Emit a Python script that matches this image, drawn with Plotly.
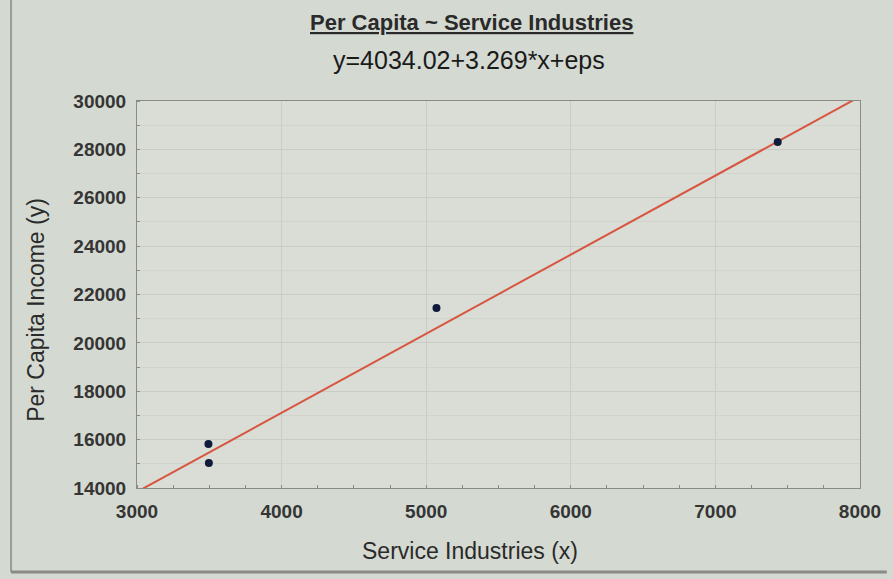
import plotly.graph_objects as go

service_x = [3494, 3497, 5071, 7431]
income_y = [15820, 15030, 21440, 28300]
intercept = 4034.02
slope = 3.269
line_x = [3000, 8000]
x_ticks = [3000, 4000, 5000, 6000, 7000, 8000]
y_ticks = [14000, 16000, 18000, 20000, 22000, 24000, 26000, 28000, 30000]

line_y = [intercept + slope * v for v in line_x]

fig = go.Figure()
fig.add_trace(go.Scatter(x=line_x, y=line_y, mode="lines",
                         line=dict(color="#d8553f", width=2), hoverinfo="skip"))
fig.add_trace(go.Scatter(x=service_x, y=income_y, mode="markers",
                         marker=dict(color="#101a3a", size=8)))

W, H = 893, 579
L, R, T, B = 137, 27, 101, 91
pw, ph = W - L - R, H - T - B

tickfont = dict(size=19, color="#353535", family="Liberation Sans, Arial, sans-serif", weight="bold")

fig.update_layout(
    width=W, height=H,
    margin=dict(l=L, r=R, t=T, b=B),
    paper_bgcolor="#d4d9d1",
    plot_bgcolor="#d9ddd6",
    showlegend=False,
    font=dict(family="Liberation Sans, Arial, sans-serif", color="#333333"),
    xaxis=dict(range=[3000, 8000], tickvals=x_ticks, ticktext=[str(v) for v in x_ticks], ticks="",
               tickfont=tickfont, ticklabelstandoff=6,
               showgrid=True, gridcolor="#c9cdc5", gridwidth=1,
               zeroline=False, showline=True, linecolor="#8a8a8a", mirror=True,
               minor=dict(ticks="inside", ticklen=3, tickcolor="#8a8a8a", dtick=250, showgrid=False)),
    yaxis=dict(range=[14000, 30000], tickvals=y_ticks, ticktext=[str(v) for v in y_ticks], ticks="",
               tickfont=tickfont, ticklabelstandoff=6,
               showgrid=True, gridcolor="#c9cdc5", gridwidth=1,
               zeroline=False, showline=True, linecolor="#8a8a8a", mirror=True,
               minor=dict(ticks="inside", ticklen=3, tickcolor="#8a8a8a", dtick=1000, showgrid=True,
                          gridcolor="#d0d4cc")),
)

def px_x(p):
    return (p - L) / pw

def px_y(p):
    return 1 - (p - T) / ph

fig.add_annotation(text="<b><u>Per Capita ~ Service Industries</u></b>", xref="paper", yref="paper",
                   x=px_x(474), y=px_y(22), showarrow=False,
                   font=dict(size=22, color="#2a2a2a"), xanchor="center", yanchor="middle")
fig.add_annotation(text="y=4034.02+3.269*x+eps", xref="paper", yref="paper",
                   x=px_x(472), y=px_y(60), showarrow=False,
                   font=dict(size=25, color="#1a1a1a"), xanchor="center", yanchor="middle")
fig.add_annotation(text="Service Industries (x)", xref="paper", yref="paper",
                   x=px_x(473), y=px_y(551), showarrow=False,
                   font=dict(size=23, color="#2a2a2a"), xanchor="center", yanchor="middle")
fig.add_annotation(text="Per Capita Income (y)", xref="paper", yref="paper",
                   x=px_x(35), y=px_y(310), showarrow=False, textangle=-90,
                   font=dict(size=23, color="#2a2a2a"), xanchor="center", yanchor="middle")

# photo frame edges
fig.add_shape(type="line", xref="paper", yref="paper",
              x0=px_x(10), x1=px_x(10), y0=px_y(0), y1=px_y(572),
              line=dict(color="#9a9a96", width=2))
fig.add_shape(type="line", xref="paper", yref="paper",
              x0=px_x(10), x1=px_x(W), y0=px_y(572), y1=px_y(572),
              line=dict(color="#8a8a86", width=3))

fig.write_html("out.html")
